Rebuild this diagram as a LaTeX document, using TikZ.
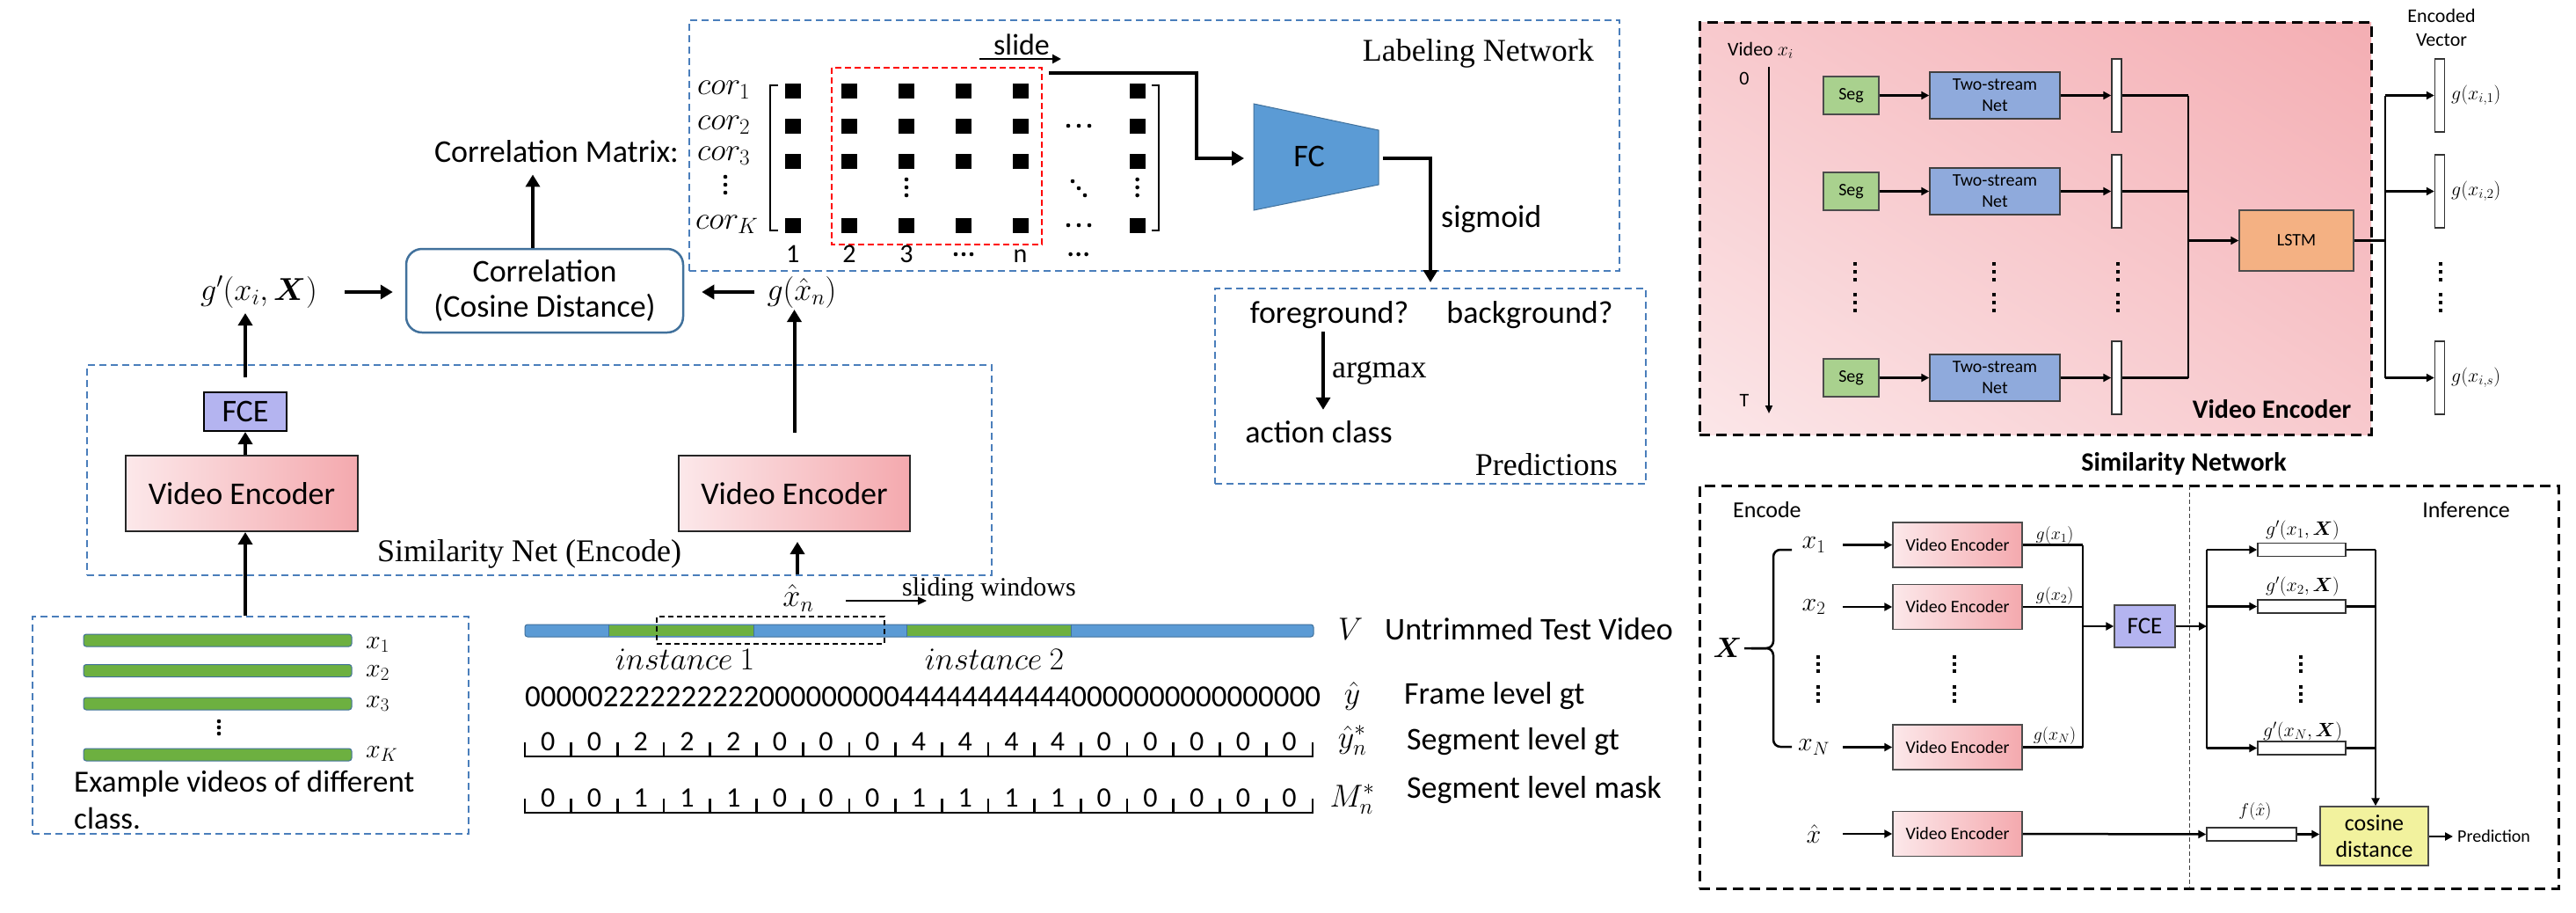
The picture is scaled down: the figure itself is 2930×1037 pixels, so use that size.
\RequirePackage{fix-cm}
\documentclass[tikz,border=0pt]{standalone}
\usepackage{amsmath}
\usepackage{fontspec}
\setmainfont{Carlito}
\newfontfamily\tnr{Liberation Serif}
\usetikzlibrary{arrows.meta,calc,shadings}
\definecolor{dblue}{HTML}{4A7EBB}
\definecolor{boxblue}{HTML}{41719C}
\definecolor{fcblue}{HTML}{5B9BD5}
\definecolor{fcelav}{HTML}{B4B4F0}
\definecolor{vel}{HTML}{FCE8EA}
\definecolor{ver}{HTML}{F4A9AE}
\definecolor{tgreen}{HTML}{6DB040}
\definecolor{segg}{HTML}{A9D18E}
\definecolor{tsnb}{HTML}{8FAADC}
\definecolor{lstmo}{HTML}{F4B183}
\definecolor{cosy}{HTML}{F2F29E}
\definecolor{pkll}{HTML}{FBE6E8}
\definecolor{pkur}{HTML}{F4AEB3}
\definecolor{pkmid}{HTML}{F8C9CD}
\newcommand\fsz[2]{\fontsize{#1}{#2}\selectfont}
\begin{document}
\begin{tikzpicture}[x=1pt,y=-1pt,
  bdash/.style={draw=dblue,line width=2pt,dash pattern=on 8pt off 5pt},
  kdash/.style={draw=black,line width=3pt,dash pattern=on 12pt off 7pt},
  thk/.style={line width=4pt,-{Triangle[length=14pt,width=16pt]}},
  rarr/.style={line width=2.5pt,-{Triangle[length=9pt,width=9pt]}},
  rline/.style={line width=2.5pt},
  tx/.style={inner sep=0pt},
  f36/.style={font=\fsz{36}{40}},
  ve/.style={draw=black!85,line width=2pt,left color=vel,right color=ver,font=\fsz{36}{40},inner sep=0pt},
  sve/.style={draw=black!70,line width=1.5pt,left color=vel,right color=ver,font=\fsz{20}{24},minimum width=147pt,minimum height=51pt,inner sep=0pt},
  seg/.style={draw=black!70,line width=1.5pt,fill=segg,minimum width=63pt,minimum height=43pt,font=\fsz{20}{24},inner sep=0pt},
  tsn/.style={draw=black!75,line width=1.5pt,fill=tsnb,minimum width=148pt,minimum height=53pt,font=\fsz{20}{24},align=center,inner sep=0pt},
  vbar/.style={draw=black!80,fill=white,line width=1.5pt,minimum width=11pt,minimum height=83pt,inner sep=0pt},
  orect/.style={draw=black!80,fill=white,line width=1.5pt,minimum width=100pt,minimum height=15pt,inner sep=0pt},
  gbar/.style={draw=boxblue,line width=1pt,fill=tgreen,rounded corners=3pt}
]
\fill[white] (0,0) rectangle (2930,1037);
\useasboundingbox (0,0) rectangle (2930,1037);

% ================= Labeling network =================
\node[bdash,minimum width=1058pt,minimum height=285pt,inner sep=0pt] (labbox) at (1313,165.5) {};
\node[tx,font=\tnr\fsz{36}{40},anchor=base east] (labnet) at (1813,69) {Labeling Network};
\node[tx,font=\fsz{34}{38},anchor=base] (slide) at (1162,62) {slide};
\coordinate (slA) at (1114,67); \coordinate (slB) at (1207,67);
\draw[line width=2.5pt,-{Triangle[length=10pt,width=10pt]}] (slA) -- (slB);

\node[tx,f36,anchor=base west] (cor1) at (793,107) {$cor_1$};
\node[tx,f36,anchor=base west] (cor2) at (793,147) {$cor_2$};
\node[tx,f36,anchor=base west] (cor3) at (793,182) {$cor_3$};
\node[tx,f36,anchor=base west] (corK) at (791,260) {$cor_K$};
\foreach \yy in {201,210,219} \fill (825,\yy) circle[radius=2.3pt];

% brackets
\draw[line width=2pt] (885,97) -- (876,97) -- (876,262) -- (885,262);
\draw[line width=2pt] (1310,97) -- (1318,97) -- (1318,262) -- (1310,262);
% squares
\foreach \xx in {901.6,966,1031,1096,1160.5,1293.6}
  \foreach \yy in {103,143,183,256}
    \fill (\xx-9,\yy-8.5) rectangle +(18,17);
% dots
\foreach \xx in {1031,1293.6} \foreach \yy in {204,213,222} \fill (\xx,\yy) circle[radius=2.3pt];
\foreach \yy in {143,256} \foreach \xx in {1215,1227,1239} \fill (\xx,\yy) circle[radius=2.3pt];
\fill (1220,206) circle[radius=2.3pt] (1227,214) circle[radius=2.3pt] (1234,222) circle[radius=2.3pt];
% red window
\draw[red,line width=2pt,dash pattern=on 7pt off 4pt] (946,77) rectangle (1185,278);
% column numbers
\foreach \xx/\lab in {901.6/1,966/2,1031/3,1160.5/n}
  \node[tx,font=\fsz{30}{34},anchor=base] (col\lab) at (\xx,298) {\lab};
\foreach \xx in {1096,1226.6} \foreach \dd in {-9,0,9} \fill (\xx+\dd,289) circle[radius=2.3pt];

% FC
\draw[fill=fcblue,draw=boxblue,line width=1pt] (1426,118) -- (1568,148) -- (1568,210) -- (1426,239) -- cycle;
\node[f36] (fc) at (1489,178) {FC};
\coordinate (matout) at (1193,83); \coordinate (fcin) at (1415,180);
\draw[thk] (matout) -- (1361,83) |- (fcin);
\coordinate (fcout) at (1573,180);
\node[tx,f36,anchor=base west] (sigm) at (1639,258) {sigmoid};

% Predictions
\node[bdash,minimum width=490pt,minimum height=222pt,inner sep=0pt] (predbox) at (1627,439) {};
\draw[thk] (fcout) -| ([yshift=6pt]predbox.north);
\node[tx,f36,anchor=base] (fg) at (1512,367) {foreground?};
\node[tx,f36,anchor=base] (bg) at (1740,367) {background?};
\node[tx,f36,anchor=base] (act) at (1500,503) {action class};
\draw[thk] ($(fg.south)+(-7,4)$) -- ($(act.north)+(5,-12)$);
\node[tx,font=\tnr\fsz{36}{40},anchor=base west] (argm) at (1515,429) {argmax};
\node[tx,font=\tnr\fsz{36}{40},anchor=base east] (predl) at (1840,540) {Predictions};

% ================= Correlation / similarity net =================
\node[tx,f36,anchor=base east] (cmat) at (772,184) {Correlation Matrix:};
\node[draw=boxblue,line width=2.5pt,rounded corners=18pt,minimum width=315pt,minimum height=95pt,align=center,font=\fsz{36}{40},inner sep=0pt] (corr) at (619.5,330.5) {Correlation\\(Cosine Distance)};
\draw[thk] ($(corr.north)+(-13.5,0)$) -- ($(corr.north |- cmat.south)+(-13.5,14)$);

\node[tx,f36] (g1) at (294.5,332) {$g'(x_i,\boldsymbol{X})$};
\node[tx,f36] (gn) at (912,332) {$g(\hat{x}_n)$};
\draw[thk,shorten <=31pt,shorten >=14pt] (g1.east) -- (g1.east -| corr.west);
\draw[thk,shorten <=14pt,shorten >=20pt] (gn.west) -- (gn.west -| corr.east);

\node[bdash,minimum width=1029pt,minimum height=239pt,inner sep=0pt] (simbox) at (613.5,534.5) {};
\node[tx,font=\tnr\fsz{36}{40},anchor=base west] (simlab) at (429,638) {Similarity Net (Encode)};
\node[ve,minimum width=264pt,minimum height=86pt] (ve1) at (275,561) {Video Encoder};
\node[ve,minimum width=263pt,minimum height=86pt] (ve2) at (903.5,561) {Video Encoder};
\node[draw=black,line width=2pt,fill=fcelav,minimum width=94pt,minimum height=44pt,inner sep=0pt,f36] (fce1) at (279,468) {FCE};
\draw[thk] (ve1.north -| fce1) -- (fce1.south);
\draw[thk] ($(fce1.north)+(0,-16)$) -- ($(fce1.north)+(0,-89)$);
\draw[thk] ($(ve2.north)+(0,-25)$) -- ($(ve2.north)+(0,-165)$);

% example videos
\node[bdash,minimum width=496pt,minimum height=247pt,inner sep=0pt] (exbox) at (285,824.5) {};
\draw[thk] (exbox.north -| fce1) -- (ve1.south -| fce1);
\foreach \i/\yy/\lab/\ly in {1/728/x_1/733,2/762.5/x_2/765,3/800/x_3/800,4/858/x_K/857}{
  \draw[gbar] (95,\yy-7) rectangle (400,\yy+7);
  \node[tx,font=\fsz{30}{34},anchor=west] (exl\i) at (416,\ly) {$\lab$};
}
\foreach \yy in {820,827,834} \fill (249,\yy) circle[radius=2.3pt];
\node[tx,font=\fsz{35}{40},anchor=base west] (ext1) at (84,900) {Example videos of different};
\node[tx,font=\fsz{35}{40},anchor=base west] (ext2) at (84,942) {class.};

% timeline
\draw[fill=fcblue,draw=boxblue,line width=1pt,rounded corners=3pt] (597,710) rectangle (1494,724);
\fill[tgreen] (692,710.6) rectangle (857,723.4);
\fill[tgreen] (1031,710.6) rectangle (1218,723.4);
\draw[boxblue,line width=1pt] (692,710)--(692,724) (857,710)--(857,724) (1031,710)--(1031,724) (1218,710)--(1218,724);
\node[draw,line width=2pt,dash pattern=on 6pt off 4pt,minimum width=259pt,minimum height=31pt,inner sep=0pt] (win) at (876.5,716.5) {};
\node[tx,f36] (xn) at (908,680) {$\hat{x}_n$};
\draw[thk] ($(xn)+(-1,-27)$) -- ($(ve2.south)+(3.5,11)$);
\coordinate (swA) at (962,683); \coordinate (swB) at (1054,683);
\draw[line width=2pt,-{Triangle[length=10pt,width=9pt]}] (swA) -- (swB);
\node[tx,font=\tnr\fsz{30}{34},anchor=base west] (swl) at (1026,677) {sliding windows};
\node[tx,f36,anchor=base] (inst1) at (779,761) {$instance\ 1$};
\node[tx,f36,anchor=base] (inst2) at (1131,761) {$instance\ 2$};

\node[tx,font=\fsz{35}{40},anchor=base west] (frame) at (597,803) {000002222222222000000000444444444440000000000000000};

% rulers
\draw[line width=2.7pt] (597,860) -- (1494,860);
\foreach \i in {0,...,17} \draw[line width=2.7pt] (597+52.7*\i,861) -- (597+52.7*\i,844);
\foreach \v [count=\i from 0] in {0,0,2,2,2,0,0,0,4,4,4,4,0,0,0,0,0}
  \node[tx,font=\fsz{32}{36},anchor=base] (gt\i) at (623.35+52.7*\i,853) {\v};
\draw[line width=2.7pt] (597,924) -- (1494,924);
\foreach \i in {0,...,17} \draw[line width=2.7pt] (597+52.7*\i,925) -- (597+52.7*\i,908);
\foreach \v [count=\i from 0] in {0,0,1,1,1,0,0,0,1,1,1,1,0,0,0,0,0}
  \node[tx,font=\fsz{32}{36},anchor=base] (mk\i) at (623.35+52.7*\i,917) {\v};

\node[tx,f36,anchor=base] (lV) at (1536,727) {$V$};
\node[tx,f36,anchor=base west] (tV) at (1575,727) {Untrimmed Test Video};
\node[tx,f36,anchor=base] (ly) at (1538,800) {$\hat{y}$};
\node[tx,f36,anchor=base west] (ty) at (1597,800) {Frame level gt};
\node[tx,f36,anchor=base] (lys) at (1538,850) {$\hat{y}^*_n$};
\node[tx,f36,anchor=base west] (tys) at (1600,852) {Segment level gt};
\node[tx,f36,anchor=base] (lm) at (1538,917) {$M^*_n$};
\node[tx,f36,anchor=base west] (tm) at (1600,907) {Segment level mask};

% ================= Encoder panel =================
\shade[upper left=pkmid,upper right=pkur,lower left=pkll,lower right=pkmid] (1933,25) rectangle (2697,494);
\node[kdash,minimum width=764pt,minimum height=469pt,inner sep=0pt] (encbox) at (2315,259.5) {};
\node[tx,font=\fsz{22}{26},anchor=base west] (vxi) at (1965,63) {Video $x_i$};
\node[tx,font=\fsz{22}{26}] (t0) at (1984,89) {0};
\node[tx,font=\fsz{22}{26}] (tT) at (1984,455) {T};
\coordinate (tA) at (2012,76); \coordinate (tB) at (2012,470);
\draw[line width=2pt,-{Triangle[length=9pt,width=8pt]}] (tA) -- (tB);
\node[draw=black!70,line width=1.5pt,fill=lstmo,minimum width=130pt,minimum height=69pt,font=\fsz{20}{24},inner sep=0pt] (lstm) at (2612,273.5) {LSTM};
\foreach \r/\yy/\lab in {1/108.5/{i,1},2/217.5/{i,2},3/429.5/{i,s}}{
  \node[seg] (seg\r) at (2105.5,\yy) {Seg};
  \node[tsn] (tsn\r) at (2269,\yy) {Two-stream\\Net};
  \node[vbar] (bar\r) at (2407.5,\yy) {};
  \coordinate (bus\r) at (2489,\yy);
  \coordinate (obus\r) at (2713,\yy);
  \node[vbar] (obar\r) at (2775,\yy) {};
  \draw[rarr] (seg\r) -- (tsn\r);
  \draw[rarr] (tsn\r) -- (bar\r);
  \draw[rline] (bar\r) -- (bus\r);
  \draw[rarr] (obus\r) -- (obar\r);
  \node[tx,font=\fsz{22}{26},anchor=west] (gl\r) at (2788,\yy) {$g(x_{\lab})$};
}
\draw[rline] (bus1) -- (bus3);
\draw[rarr] (bus1 |- lstm) -- (lstm);
\draw[rline] (lstm.east) -- (obus1 |- lstm);
\draw[rline] (obus1) -- (obus3);
\foreach \xx in {2110,2268,2409,2776}
  \foreach \yy in {300,309,318,335,344,353}
    \fill (\xx-1.6,\yy-2) rectangle +(3.2,4);
\node[tx,font=\bfseries\fsz{30}{34},anchor=base] (velab) at (2584,475) {Video Encoder};
\node[tx,font=\fsz{22}{26},anchor=base] (encv1) at (2777,25) {Encoded};
\node[tx,font=\fsz{22}{26},anchor=base] (encv2) at (2777,52) {Vector};

% ================= Similarity network panel =================
\node[tx,font=\bfseries\fsz{30}{34}] (simtitle) at (2484,527) {Similarity Network};
\node[kdash,minimum width=977pt,minimum height=458pt,inner sep=0pt] (simnet) at (2421.5,781) {};
\coordinate (divT) at (2490,552); \coordinate (divB) at (2490,1010);
\draw[black!75,line width=1pt,dash pattern=on 5pt off 3pt] (divT) -- (divB);
\node[tx,font=\fsz{26}{30},anchor=base west] (encl) at (1971,588) {Encode};
\node[tx,font=\fsz{26}{30},anchor=base east] (infl) at (2855,588) {Inference};

\node[tx,font=\fsz{32}{36}] (bigX) at (1965,737) {$\boldsymbol{X}$};
\draw[line width=2.5pt,rounded corners=8pt] (2038,625) -- (2017,625) -- (2017,737) -- (1984,737);
\draw[line width=2.5pt,rounded corners=8pt] (1992,737) -- (2017,737) -- (2017,849) -- (2038,849);

\foreach \r/\yy/\lab in {1/619.5/x_1,2/690/x_2,3/849.5/x_N,4/948/\hat{x}}{
  \node[tx,font=\fsz{30}{34}] (xl\r) at (2063,\yy) {$\lab$};
  \node[sve] (sve\r) at (2226.5,\yy) {Video Encoder};
  \draw[rarr] ($(xl\r.center)+(33,0)$) -- (sve\r.west);
}
\foreach \xx in {2068,2223,2617}
  \foreach \yy in {747,755,763,781,789,797}
    \fill (\xx-1.6,\yy-2) rectangle +(3.2,4);
\node[tx,font=\fsz{20}{24}] (gx1) at (2337,608) {$g(x_1)$};
\node[tx,font=\fsz{20}{24}] (gx2) at (2337,677) {$g(x_2)$};
\node[tx,font=\fsz{20}{24}] (gx3) at (2337,836) {$g(x_N)$};
\foreach \r/\yy in {1/619.5,2/690,3/849.5}{
  \coordinate (sb\r) at (2369,\yy);
  \draw[rline] (sve\r.east) -- (sb\r);
}
\draw[rline] (sb1) -- (sb3);
\node[draw=black!70,line width=1.5pt,fill=fcelav,minimum width=69pt,minimum height=48pt,inner sep=0pt,font=\fsz{27}{30}] (fce2) at (2439.5,712) {FCE};
\draw[rarr] (sb1 |- fce2) -- (fce2.west);
\foreach \r/\yy in {1/625,2/689.5,3/850.5}{
  \coordinate (ib\r) at (2510,\yy);
  \node[orect] (or\r) at (2618,\yy) {};
  \draw[rarr] (ib\r) -- (or\r.west);
  \coordinate (cb\r) at (2702,\yy);
  \draw[rline] (or\r.east) -- (cb\r);
}
\draw[rline] (ib1) -- (ib3);
\draw[rarr] (fce2.east) -- (ib1 |- fce2);
\node[tx,font=\fsz{22}{26}] (gp1) at (2619,603) {$g'(x_1,\boldsymbol{X})$};
\node[tx,font=\fsz{22}{26}] (gp2) at (2619,667) {$g'(x_2,\boldsymbol{X})$};
\node[tx,font=\fsz{22}{26}] (gp3) at (2619,832) {$g'(x_N,\boldsymbol{X})$};

\node[draw=black!70,line width=1.5pt,fill=cosy,minimum width=123pt,minimum height=67pt,align=center,font=\fsz{26}{30},inner sep=0pt] (cosd) at (2700.5,950.5) {cosine\\distance};
\draw[rline] (cb1) -- (cb3);
\draw[rarr] (cb3) -- (cb3 |- cosd.north);
\node[orect,minimum width=102pt] (frect) at (2561,948.5) {};
\draw[rarr] (sve4.east) -- (frect.west);
\node[tx,font=\fsz{20}{24}] (fl) at (2565,922) {$f(\hat{x})$};
\draw[rarr] (frect.east) -- (frect.east -| cosd.west);
\coordinate (predc) at (2790,951);
\draw[rarr] (cosd.east |- predc) -- (predc);
\node[tx,font=\fsz{20}{24},anchor=west] (predt) at (2795,951) {Prediction};
\end{tikzpicture}
\end{document}
